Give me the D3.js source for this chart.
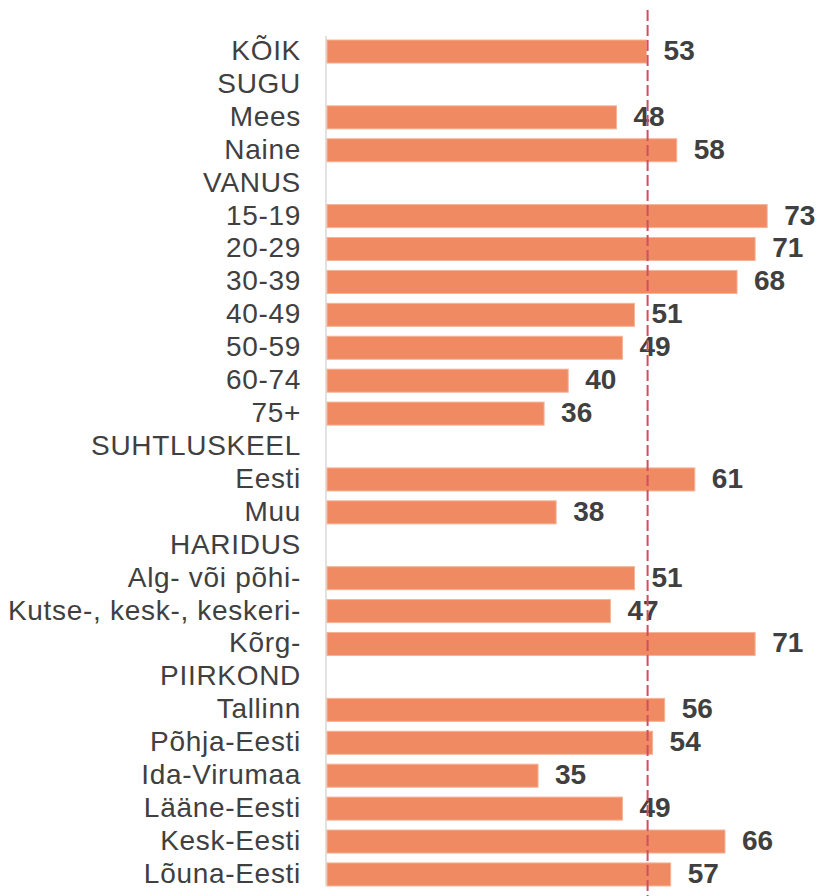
<!DOCTYPE html>
<html><head><meta charset="utf-8">
<script src="https://cdn.jsdelivr.net/npm/d3@7"></script>
<style>body{margin:0;background:#fff}</style>
</head><body><div id="chart"></div>
<script>
const categories = ["KÕIK","SUGU","Mees","Naine","VANUS","15-19","20-29","30-39","40-49","50-59","60-74","75+","SUHTLUSKEEL","Eesti","Muu","HARIDUS","Alg- või põhi-","Kutse-, kesk-, keskeri-","Kõrg-","PIIRKOND","Tallinn","Põhja-Eesti","Ida-Virumaa","Lääne-Eesti","Kesk-Eesti","Lõuna-Eesti"];
const values = [53,null,48,58,null,73,71,68,51,49,40,36,null,61,38,null,51,47,71,null,56,54,35,49,66,57];
const referenceValue = 53;

const W = 825, H = 896;
const svg = d3.select("#chart").append("svg").attr("width", W).attr("height", H);
const x = d3.scaleLinear().domain([0, 100]).range([327, 930]);
const y = d3.scaleBand().domain(categories).range([35.06, 890.9]).paddingInner(0.3).paddingOuter(0.15);
const data = categories.map((c, i) => ({c, v: values[i]}));

svg.append("line").attr("x1", 326).attr("x2", 326).attr("y1", 36).attr("y2", 886)
  .attr("stroke", "#d9d9d9").attr("stroke-width", 1.5);

svg.selectAll("rect.bar").data(data.filter(d => d.v != null)).join("rect")
  .attr("class", "bar")
  .attr("x", x(0)).attr("y", d => y(d.c))
  .attr("width", d => x(d.v) - x(0)).attr("height", y.bandwidth())
  .attr("fill", "#F08A62").attr("stroke", "#F5B397").attr("stroke-width", 1);

svg.selectAll("text.cat").data(data).join("text")
  .attr("class", "cat")
  .attr("x", 301).attr("y", d => y(d.c) + y.bandwidth() / 2).attr("dy", "0.3em")
  .attr("text-anchor", "end")
  .attr("font-family", "Liberation Sans, Arial, sans-serif").attr("font-size", 28)
  .attr("letter-spacing", "0.7px")
  .attr("fill", "#404040").text(d => d.c);

svg.selectAll("text.val").data(data.filter(d => d.v != null)).join("text")
  .attr("class", "val")
  .attr("x", d => x(d.v) + 17).attr("y", d => y(d.c) + y.bandwidth() / 2).attr("dy", "0.3em")
  .attr("font-family", "Liberation Sans, Arial, sans-serif").attr("font-size", 28).attr("font-weight", "bold")
  .attr("fill", "#404040").text(d => d.v);

svg.append("line").attr("x1", 649).attr("x2", 649).attr("y1", 10).attr("y2", H)
  .attr("x1", x(referenceValue) + 1).attr("x2", x(referenceValue) + 1)
  .attr("stroke", "#CF4F60").attr("stroke-width", 2).attr("stroke-dasharray", "11,4");
</script></body></html>
